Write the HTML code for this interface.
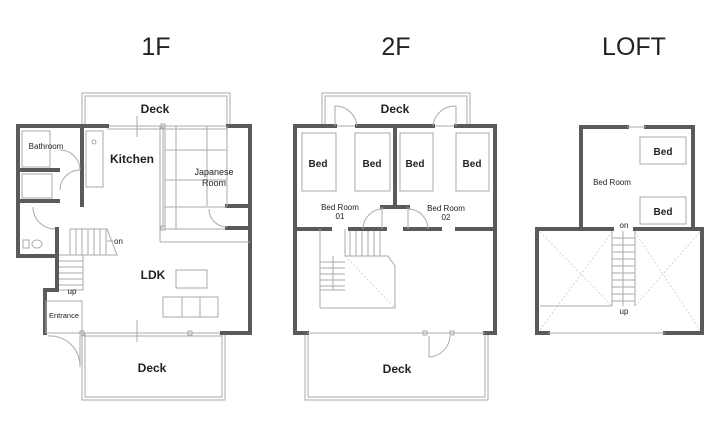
<!DOCTYPE html>
<html><head><meta charset="utf-8"><style>
html,body{margin:0;padding:0;background:#fff;}
svg{display:block;}
text{font-family:"Liberation Sans",sans-serif;fill:#222;}
.w{stroke:#5a5a5a;stroke-width:4;fill:none;stroke-linecap:square;}
.l{stroke:#aaa;stroke-width:1;fill:none;}
.d{stroke:#ccc;stroke-width:0.8;fill:none;stroke-dasharray:2 2;}
.b{font-weight:bold;}
</style></head><body>
<svg width="720" height="428" viewBox="0 0 720 428">
<text x="156" y="55" font-size="25" text-anchor="middle">1F</text>
<text x="396" y="55" font-size="25" text-anchor="middle">2F</text>
<text x="634" y="55" font-size="25" text-anchor="middle">LOFT</text>

<!-- 1F -->
<rect x="82" y="93" width="148" height="33" class="l"/>
<rect x="85" y="96" width="142" height="30" class="l"/>
<rect x="82" y="333" width="143" height="67" class="l"/>
<rect x="85" y="333" width="137" height="64" class="l"/>
<line x1="107" y1="126" x2="228" y2="126" class="l"/>
<line x1="107" y1="129" x2="228" y2="129" class="l"/>
<line x1="82" y1="333" x2="222" y2="333" class="l"/>
<line x1="82" y1="336" x2="222" y2="336" class="l"/>
<polyline points="107,126 18,126 18,256 57,256 57,229" class="w"/>
<polyline points="57,256 57,290 45,290 45,333" class="w"/>
<polyline points="228,126 250,126 250,333 222,333" class="w"/>
<line x1="82" y1="128" x2="82" y2="205" class="w"/>
<line x1="18" y1="170" x2="58" y2="170" class="w"/>
<line x1="18" y1="201" x2="58" y2="201" class="w"/>
<rect x="22" y="131" width="28" height="36" class="l"/>
<rect x="22" y="174" width="30" height="24" class="l"/>
<rect x="86" y="131" width="17" height="56" class="l"/>
<circle cx="94" cy="142" r="2" class="l"/>
<ellipse cx="37" cy="244" rx="5" ry="4" class="l"/>
<rect x="23" y="240" width="6" height="8" class="l"/>
<path d="M60,150 A20,20 0 0 1 80,170" class="l"/>
<path d="M60,190 A20,20 0 0 1 80,170" class="l"/>
<path d="M33,207 A22,22 0 0 0 55,229" class="l"/>
<!-- japanese room -->
<line x1="163" y1="126" x2="163" y2="229" class="l"/>
<line x1="165" y1="126" x2="165" y2="229" class="l"/>
<rect x="161" y="124" width="4" height="4" class="l" fill="#fff"/>
<rect x="161" y="226" width="4" height="4" class="l" fill="#fff"/>
<line x1="165" y1="229" x2="227" y2="229" class="l"/>
<line x1="227" y1="206" x2="250" y2="206" class="w"/>
<line x1="227" y1="228" x2="250" y2="228" class="w"/>
<line x1="160" y1="242" x2="250" y2="242" class="l"/>
<line x1="160" y1="126" x2="160" y2="242" class="l"/>
<line x1="176" y1="126" x2="176" y2="229" class="l"/>
<line x1="207" y1="126" x2="207" y2="206" class="l"/>
<line x1="227" y1="126" x2="227" y2="206" class="l"/>
<line x1="165" y1="150" x2="227" y2="150" class="l"/>
<line x1="165" y1="180" x2="227" y2="180" class="l"/>
<line x1="165" y1="207" x2="227" y2="207" class="l"/>
<path d="M209,209 A18,18 0 0 0 227,227" class="l"/>
<!-- stairs 1F -->
<polyline points="70,229 107,229 117,255 83,255 83,290 59,290" class="l"/>
<g class="l">
<line x1="70" y1="229" x2="70" y2="255"/>
<line x1="76" y1="229" x2="76" y2="255"/><line x1="82" y1="229" x2="82" y2="255"/><line x1="88" y1="229" x2="88" y2="255"/><line x1="94" y1="229" x2="94" y2="255"/><line x1="100" y1="229" x2="100" y2="255"/><line x1="106" y1="229" x2="106" y2="255"/>
<line x1="59" y1="255" x2="83" y2="255"/>
<line x1="59" y1="261" x2="83" y2="261"/><line x1="59" y1="267" x2="83" y2="267"/><line x1="59" y1="273" x2="83" y2="273"/><line x1="59" y1="279" x2="83" y2="279"/><line x1="59" y1="285" x2="83" y2="285"/>
</g>
<line x1="107" y1="241" x2="113" y2="241" class="l"/>
<!-- entrance -->
<rect x="46" y="301" width="36" height="32" class="l"/>
<path d="M80,336 L80,367 M80,367 A30,30 0 0 0 48,336" class="l"/>
<rect x="80" y="331" width="4" height="4" class="l" fill="#fff"/>
<rect x="188" y="331" width="4" height="4" class="l" fill="#fff"/>
<rect x="176" y="270" width="31" height="18" class="l"/>
<rect x="163" y="297" width="55" height="20" class="l"/>
<line x1="182" y1="297" x2="182" y2="317" class="l"/><line x1="200" y1="297" x2="200" y2="317" class="l"/>
<line x1="137" y1="116" x2="137" y2="137" class="l"/>
<line x1="137" y1="320" x2="137" y2="342" class="l"/>
<text x="155" y="113" font-size="12" class="b" text-anchor="middle">Deck</text>
<text x="132" y="163" font-size="12" class="b" text-anchor="middle">Kitchen</text>
<text x="46" y="149" font-size="8" text-anchor="middle">Bathroom</text>
<text x="214" y="175" font-size="9" text-anchor="middle">Japanese</text>
<text x="214" y="186" font-size="9" text-anchor="middle">Room</text>
<text x="153" y="279" font-size="12" class="b" text-anchor="middle">LDK</text>
<text x="114" y="244" font-size="8">on</text>
<text x="72" y="294" font-size="8" text-anchor="middle">up</text>
<text x="64" y="318" font-size="7.5" text-anchor="middle">Entrance</text>
<text x="152" y="372" font-size="12" class="b" text-anchor="middle">Deck</text>

<!-- 2F -->
<rect x="322" y="93" width="148" height="33" class="l"/>
<rect x="325" y="96" width="142" height="30" class="l"/>
<rect x="305" y="333" width="183" height="67" class="l"/>
<rect x="308" y="333" width="177" height="64" class="l"/>
<polyline points="335,126 295,126 295,333 307,333" class="w"/>
<line x1="357" y1="126" x2="433" y2="126" class="w"/>
<polyline points="456,126 495,126 495,333 485,333" class="w"/>
<line x1="395" y1="126" x2="395" y2="207" class="w"/>
<line x1="382" y1="207" x2="408" y2="207" class="w"/>
<line x1="297" y1="229" x2="330" y2="229" class="w"/>
<line x1="350" y1="229" x2="385" y2="229" class="w"/>
<line x1="405" y1="229" x2="440" y2="229" class="w"/>
<line x1="457" y1="229" x2="493" y2="229" class="w"/>
<line x1="307" y1="333" x2="485" y2="333" class="l"/>
<rect x="423" y="331" width="4" height="4" class="l" fill="#fff"/>
<rect x="450" y="331" width="4" height="4" class="l" fill="#fff"/>
<path d="M429,336 L429,357 A22,22 0 0 0 450,336" class="l"/>
<path d="M335,126 L335,106 A22,22 0 0 1 357,126" class="l"/>
<path d="M456,126 L456,106 A22,22 0 0 0 433,126" class="l"/>
<rect x="302" y="133" width="34" height="58" class="l"/>
<rect x="355" y="133" width="35" height="58" class="l"/>
<rect x="400" y="133" width="33" height="58" class="l"/>
<rect x="456" y="133" width="33" height="58" class="l"/>
<path d="M363,229 A20,20 0 0 1 383,209 M408,209 A20,20 0 0 1 428,229" class="l"/>
<line x1="382" y1="207" x2="382" y2="229" class="l"/><line x1="408" y1="207" x2="408" y2="229" class="l"/>
<g class="l">
<line x1="320" y1="229" x2="320" y2="308"/>
<polyline points="320,308 395,308 395,266 388,256 345,256 345,229"/>
<line x1="333" y1="256" x2="333" y2="290"/><line x1="320" y1="290" x2="345" y2="290"/>
<line x1="320" y1="262" x2="345" y2="262"/><line x1="320" y1="268" x2="345" y2="268"/><line x1="320" y1="274" x2="345" y2="274"/><line x1="320" y1="280" x2="345" y2="280"/><line x1="320" y1="286" x2="345" y2="286"/>
<line x1="345" y1="256" x2="385" y2="256"/>
<line x1="350" y1="231" x2="350" y2="256"/><line x1="356" y1="231" x2="356" y2="256"/><line x1="362" y1="231" x2="362" y2="256"/><line x1="368" y1="231" x2="368" y2="256"/><line x1="374" y1="231" x2="374" y2="256"/><line x1="380" y1="231" x2="380" y2="256"/>
</g>
<path d="M345,256 L395,308" class="d"/>
<text x="395" y="113" font-size="12" class="b" text-anchor="middle">Deck</text>
<text x="318" y="167" font-size="10" class="b" text-anchor="middle">Bed</text>
<text x="372" y="167" font-size="10" class="b" text-anchor="middle">Bed</text>
<text x="415" y="167" font-size="10" class="b" text-anchor="middle">Bed</text>
<text x="472" y="167" font-size="10" class="b" text-anchor="middle">Bed</text>
<text x="340" y="210" font-size="8" text-anchor="middle">Bed Room</text>
<text x="340" y="219" font-size="8" text-anchor="middle">01</text>
<text x="446" y="211" font-size="8" text-anchor="middle">Bed Room</text>
<text x="446" y="220" font-size="8" text-anchor="middle">02</text>
<text x="397" y="373" font-size="12" class="b" text-anchor="middle">Deck</text>

<!-- LOFT -->
<polyline points="581,229 581,127 627,127" class="w"/>
<polyline points="646,127 693,127 693,229" class="w"/>
<line x1="627" y1="127" x2="646" y2="127" class="l"/>
<polyline points="612,229 537,229 537,333 548,333" class="w"/>
<polyline points="635,229 702,229 702,333 665,333" class="w"/>
<line x1="548" y1="333" x2="665" y2="333" class="l"/>
<rect x="640" y="137" width="46" height="27" class="l"/>
<rect x="640" y="197" width="46" height="27" class="l"/>
<path d="M540,232 L612,306 M540,330 L612,232 M635,232 L700,330 M635,306 L700,232" class="d"/>
<line x1="540" y1="306" x2="612" y2="306" class="l"/>
<g class="l">
<line x1="612" y1="231" x2="612" y2="306"/><line x1="635" y1="231" x2="635" y2="306"/><line x1="623" y1="231" x2="623" y2="306"/>
<line x1="612" y1="238" x2="635" y2="238"/><line x1="612" y1="245" x2="635" y2="245"/><line x1="612" y1="252" x2="635" y2="252"/><line x1="612" y1="259" x2="635" y2="259"/><line x1="612" y1="266" x2="635" y2="266"/><line x1="612" y1="273" x2="635" y2="273"/><line x1="612" y1="280" x2="635" y2="280"/><line x1="612" y1="287" x2="635" y2="287"/><line x1="612" y1="294" x2="635" y2="294"/><line x1="612" y1="301" x2="635" y2="301"/>
</g>
<text x="663" y="155" font-size="10" class="b" text-anchor="middle">Bed</text>
<text x="663" y="215" font-size="10" class="b" text-anchor="middle">Bed</text>
<text x="612" y="185" font-size="8" text-anchor="middle">Bed Room</text>
<text x="624" y="228" font-size="8" text-anchor="middle">on</text>
<text x="624" y="314" font-size="8" text-anchor="middle">up</text>
</svg>
</body></html>
